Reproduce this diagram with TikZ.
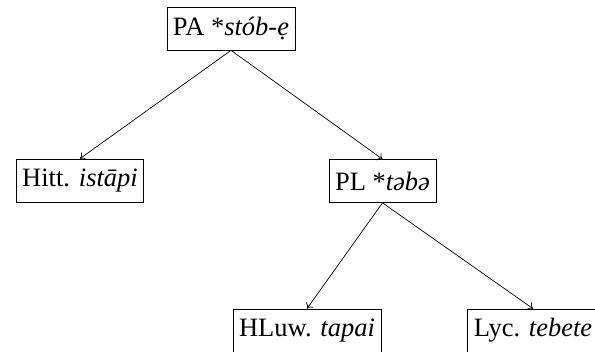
\documentclass[tikz,border=0pt]{standalone}
\usepackage{fontspec}
\setmainfont{Liberation Serif}
\usetikzlibrary{arrows.meta}
\begin{document}
\begin{tikzpicture}[x=1pt,y=-1pt,
  box/.style={draw, line width=0.7pt, minimum height=43pt, inner xsep=6pt, inner ysep=4pt, font=\fontsize{26.5}{30}\selectfont},
  conn/.style={-{To[length=5pt,width=9pt]}, line width=0.7pt}]
\useasboundingbox (0,0) rectangle (595,352);
\node[box] (pa) at (231,28.5) {PA *\textit{stób-ẹ}};
\node[box] (hitt) at (80,180.5) {Hitt. \textit{istāpi}};
\node[box] (pl) at (382.5,181) {PL *\textit{təbə}};
\node[box] (hluw) at (307,330.5) {HLuw. \textit{tapai}};
\node[box] (lyc) at (533,330.5) {Lyc. \textit{tebete}};
\draw[conn] (pa.south) -- (hitt.north);
\draw[conn] (pa.south) -- (pl.north);
\draw[conn] (pl.south) -- (hluw.north);
\draw[conn] (pl.south) -- (lyc.north);
\end{tikzpicture}
\end{document}
